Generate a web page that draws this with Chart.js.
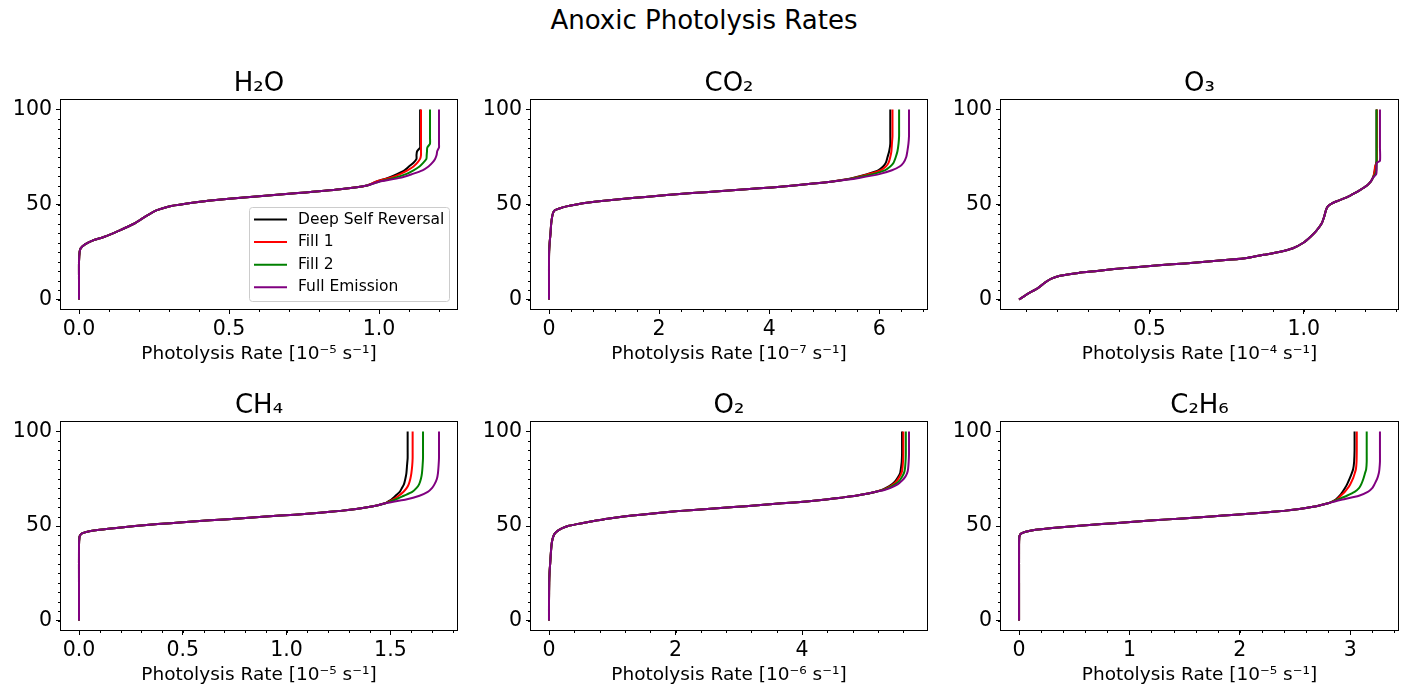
<!DOCTYPE html>
<html>
<head>
<meta charset="utf-8">
<title>Anoxic Photolysis Rates</title>
<script src="https://cdn.jsdelivr.net/npm/chart.js@4.4.0/dist/chart.umd.min.js"></script>
<style>
  html, body { margin: 0; padding: 0; background: #fff; overflow: hidden; }
  body { width: 1408px; height: 687px; position: relative; font-family: "DejaVu Sans", sans-serif; }
  #suptitle { position: absolute; left: 0; top: 7px; width: 1408px; text-align: center;
              font-size: 26px; line-height: 26px; color: #000; }
  canvas { position: absolute; }
</style>
</head>
<body>
<div id="suptitle">Anoxic Photolysis Rates</div>
<script>
// line profiles
var seriesNames = ['Deep Self Reversal', 'Fill 1', 'Fill 2', 'Full Emission'];
var seriesColors = ['#000000', '#ff0000', '#008000', '#800080'];

var yTicks = ['0', '50', '100'];

// H2O  [1e-5 s-1]
var h2oAlt   = [0, 10, 20, 25, 27, 29, 31, 33, 36, 40, 44, 47, 49, 50.5, 52, 54, 56, 58, 60, 62, 64, 66, 68, 70, 72, 74, 76, 78, 80, 82, 85, 90, 100];
var h2oDeep  = [0, 0, 0, 0.002, 0.006, 0.02, 0.045, 0.085, 0.13, 0.185, 0.225, 0.26, 0.30, 0.36, 0.43, 0.57, 0.73, 0.87, 0.96, 0.99, 1.03, 1.06, 1.085, 1.10, 1.115, 1.125, 1.125, 1.127, 1.137, 1.137, 1.137, 1.137, 1.137];
var h2oFill1 = [0, 0, 0, 0.002, 0.006, 0.02, 0.045, 0.085, 0.13, 0.185, 0.225, 0.26, 0.30, 0.36, 0.43, 0.57, 0.73, 0.87, 0.96, 0.99, 1.035, 1.07, 1.095, 1.115, 1.128, 1.137, 1.14, 1.14, 1.14, 1.14, 1.14, 1.14, 1.14];
var h2oFill2 = [0, 0, 0, 0.002, 0.006, 0.02, 0.045, 0.085, 0.13, 0.185, 0.225, 0.26, 0.30, 0.36, 0.43, 0.57, 0.73, 0.87, 0.96, 1.00, 1.05, 1.09, 1.115, 1.135, 1.148, 1.158, 1.159, 1.16, 1.161, 1.17, 1.17, 1.17, 1.17];
var h2oFull  = [0, 0, 0, 0.002, 0.006, 0.02, 0.045, 0.085, 0.13, 0.185, 0.225, 0.26, 0.30, 0.36, 0.43, 0.57, 0.73, 0.87, 0.96, 1.00, 1.07, 1.11, 1.145, 1.165, 1.178, 1.187, 1.192, 1.194, 1.2, 1.2, 1.2, 1.2, 1.2];
var h2oTicks = ['0.0', '0.5', '1.0'];

// CO2  [1e-7 s-1]
var co2Alt   = [0, 10, 20, 25, 30, 35, 40, 44, 46, 47, 48, 49, 50, 51, 52, 53, 54, 55, 56, 57, 58, 59, 60, 61, 62, 63, 64, 66, 68, 70, 72, 75, 78, 82, 86, 90, 95, 100];
var co2Deep  = [0, 0, 0, 0.002, 0.012, 0.028, 0.04, 0.06, 0.08, 0.11, 0.2, 0.32, 0.5, 0.72, 1.0, 1.37, 1.75, 2.14, 2.6, 3.08, 3.58, 4.05, 4.45, 4.8, 5.12, 5.35, 5.52, 5.78, 5.98, 6.07, 6.12, 6.15, 6.18, 6.2, 6.2, 6.2, 6.2, 6.2];
var co2Fill1 = [0, 0, 0, 0.002, 0.012, 0.028, 0.04, 0.06, 0.08, 0.11, 0.2, 0.32, 0.5, 0.72, 1.0, 1.37, 1.75, 2.14, 2.6, 3.08, 3.58, 4.05, 4.45, 4.8, 5.12, 5.36, 5.54, 5.8, 6.02, 6.12, 6.17, 6.2, 6.22, 6.23, 6.24, 6.24, 6.24, 6.24];
var co2Fill2 = [0, 0, 0, 0.002, 0.012, 0.028, 0.04, 0.06, 0.08, 0.11, 0.2, 0.32, 0.5, 0.72, 1.0, 1.37, 1.75, 2.14, 2.6, 3.08, 3.58, 4.05, 4.45, 4.8, 5.12, 5.38, 5.57, 5.88, 6.1, 6.2, 6.26, 6.3, 6.33, 6.35, 6.36, 6.36, 6.36, 6.36];
var co2Full  = [0, 0, 0, 0.002, 0.012, 0.028, 0.04, 0.06, 0.08, 0.11, 0.2, 0.32, 0.5, 0.72, 1.0, 1.37, 1.75, 2.14, 2.6, 3.08, 3.58, 4.05, 4.45, 4.8, 5.12, 5.4, 5.63, 6.0, 6.23, 6.37, 6.44, 6.49, 6.51, 6.53, 6.54, 6.54, 6.54, 6.54];
var co2Ticks = ['0', '2', '4', '6'];

// O3  [1e-4 s-1]
var o3Alt   = [0, 3, 6, 9, 11, 12.5, 14, 15, 16, 17, 18, 19, 20, 21, 22, 23.5, 25, 27, 30, 33, 36, 40, 44, 47, 49, 50.5, 52, 54, 56, 58, 60, 62, 64, 66, 68, 70, 72, 73, 80, 90, 100];
var o3Deep  = [0.077, 0.105, 0.138, 0.162, 0.182, 0.21, 0.27, 0.33, 0.385, 0.455, 0.53, 0.615, 0.69, 0.765, 0.82, 0.87, 0.92, 0.965, 1.0, 1.022, 1.04, 1.058, 1.067, 1.072, 1.078, 1.09, 1.112, 1.142, 1.165, 1.186, 1.205, 1.217, 1.224, 1.228, 1.23, 1.232, 1.235, 1.236, 1.236, 1.236, 1.236];
var o3Fill1 = [0.077, 0.105, 0.138, 0.162, 0.182, 0.21, 0.27, 0.33, 0.385, 0.455, 0.53, 0.615, 0.69, 0.765, 0.82, 0.87, 0.92, 0.965, 1.0, 1.022, 1.04, 1.058, 1.067, 1.072, 1.078, 1.09, 1.112, 1.142, 1.165, 1.186, 1.205, 1.217, 1.224, 1.228, 1.23, 1.231, 1.236, 1.237, 1.237, 1.237, 1.237];
var o3Fill2 = [0.077, 0.105, 0.138, 0.162, 0.182, 0.21, 0.27, 0.33, 0.385, 0.455, 0.53, 0.615, 0.69, 0.765, 0.82, 0.87, 0.92, 0.965, 1.0, 1.022, 1.04, 1.058, 1.067, 1.072, 1.078, 1.09, 1.112, 1.142, 1.165, 1.186, 1.205, 1.217, 1.224, 1.232, 1.235, 1.236, 1.236, 1.236, 1.236, 1.236, 1.236];
var o3Full  = [0.077, 0.105, 0.138, 0.162, 0.182, 0.21, 0.27, 0.33, 0.385, 0.455, 0.53, 0.615, 0.69, 0.765, 0.82, 0.87, 0.92, 0.965, 1.0, 1.022, 1.04, 1.058, 1.067, 1.072, 1.078, 1.09, 1.112, 1.142, 1.165, 1.186, 1.205, 1.217, 1.224, 1.235, 1.236, 1.236, 1.237, 1.247, 1.247, 1.247, 1.247];
var o3Ticks = ['0.5', '1.0'];

// CH4  [1e-5 s-1]
var ch4Alt   = [0, 20, 40, 44, 45, 46, 47, 48, 49, 50, 51, 52, 53, 54, 55, 56, 57, 58, 59, 60, 61, 62, 63, 64, 66, 68, 70, 72, 75, 78, 82, 86, 90, 100];
var ch4Deep  = [0, 0, 0, 0.002, 0.005, 0.012, 0.04, 0.1, 0.18, 0.27, 0.38, 0.5, 0.63, 0.77, 0.9, 1.04, 1.16, 1.26, 1.335, 1.395, 1.44, 1.475, 1.49, 1.505, 1.525, 1.545, 1.555, 1.565, 1.572, 1.577, 1.58, 1.583, 1.583, 1.583];
var ch4Fill1 = [0, 0, 0, 0.002, 0.005, 0.012, 0.04, 0.1, 0.18, 0.27, 0.38, 0.5, 0.63, 0.77, 0.9, 1.04, 1.16, 1.26, 1.335, 1.395, 1.44, 1.475, 1.495, 1.512, 1.54, 1.562, 1.578, 1.588, 1.596, 1.601, 1.605, 1.607, 1.607, 1.607];
var ch4Fill2 = [0, 0, 0, 0.002, 0.005, 0.012, 0.04, 0.1, 0.18, 0.27, 0.38, 0.5, 0.63, 0.77, 0.9, 1.04, 1.16, 1.26, 1.335, 1.395, 1.44, 1.475, 1.5, 1.525, 1.565, 1.605, 1.625, 1.638, 1.647, 1.652, 1.655, 1.657, 1.657, 1.657];
var ch4Full  = [0, 0, 0, 0.002, 0.005, 0.012, 0.04, 0.1, 0.18, 0.27, 0.38, 0.5, 0.63, 0.77, 0.9, 1.04, 1.16, 1.26, 1.335, 1.395, 1.44, 1.475, 1.52, 1.575, 1.64, 1.68, 1.7, 1.712, 1.724, 1.729, 1.732, 1.734, 1.734, 1.734];
var ch4Ticks = ['0.0', '0.5', '1.0', '1.5'];

// O2  [1e-6 s-1]
var o2Alt   = [0, 10, 20, 25, 30, 35, 40, 43, 45, 46, 47, 48, 49, 50, 51, 52, 53, 54, 55, 56, 57, 58, 59, 60, 61, 62, 63, 64, 65, 66, 67, 68, 69, 70, 72, 74, 76, 78, 80, 84, 88, 92, 100];
var o2Deep  = [0, 0, 0.003, 0.008, 0.018, 0.028, 0.04, 0.055, 0.075, 0.09, 0.12, 0.16, 0.22, 0.3, 0.44, 0.6, 0.77, 0.95, 1.18, 1.45, 1.76, 2.08, 2.5, 2.92, 3.3, 3.68, 4.07, 4.38, 4.62, 4.85, 5.02, 5.15, 5.25, 5.32, 5.42, 5.48, 5.52, 5.55, 5.56, 5.575, 5.58, 5.58, 5.58];
var o2Fill1 = [0, 0, 0.003, 0.008, 0.018, 0.028, 0.04, 0.055, 0.075, 0.09, 0.12, 0.16, 0.22, 0.3, 0.44, 0.6, 0.77, 0.95, 1.18, 1.45, 1.76, 2.08, 2.5, 2.92, 3.3, 3.68, 4.07, 4.38, 4.62, 4.85, 5.02, 5.15, 5.27, 5.34, 5.44, 5.5, 5.54, 5.57, 5.585, 5.595, 5.6, 5.6, 5.6];
var o2Fill2 = [0, 0, 0.003, 0.008, 0.018, 0.028, 0.04, 0.055, 0.075, 0.09, 0.12, 0.16, 0.22, 0.3, 0.44, 0.6, 0.77, 0.95, 1.18, 1.45, 1.76, 2.08, 2.5, 2.92, 3.3, 3.68, 4.07, 4.38, 4.62, 4.85, 5.02, 5.15, 5.28, 5.36, 5.47, 5.54, 5.58, 5.61, 5.625, 5.635, 5.64, 5.64, 5.64];
var o2Full  = [0, 0, 0.003, 0.008, 0.018, 0.028, 0.04, 0.055, 0.075, 0.09, 0.12, 0.16, 0.22, 0.3, 0.44, 0.6, 0.77, 0.95, 1.18, 1.45, 1.76, 2.08, 2.5, 2.92, 3.3, 3.68, 4.07, 4.38, 4.62, 4.85, 5.02, 5.15, 5.3, 5.39, 5.51, 5.58, 5.63, 5.66, 5.675, 5.685, 5.69, 5.69, 5.69];
var o2Ticks = ['0', '2', '4'];

// C2H6  [1e-5 s-1]
var c2h6Alt   = [0, 20, 40, 44, 45, 46, 47, 48, 49, 50, 51, 52, 53, 54, 55, 56, 57, 58, 59, 60, 61, 62, 63, 64, 66, 68, 70, 72, 75, 78, 80, 84, 90, 100];
var c2h6Deep  = [0, 0, 0, 0.002, 0.006, 0.018, 0.06, 0.15, 0.3, 0.52, 0.75, 0.98, 1.22, 1.48, 1.74, 1.96, 2.2, 2.4, 2.54, 2.65, 2.73, 2.8, 2.84, 2.87, 2.905, 2.93, 2.952, 2.972, 2.995, 3.015, 3.027, 3.036, 3.04, 3.04];
var c2h6Fill1 = [0, 0, 0, 0.002, 0.006, 0.018, 0.06, 0.15, 0.3, 0.52, 0.75, 0.98, 1.22, 1.48, 1.74, 1.96, 2.2, 2.4, 2.54, 2.65, 2.73, 2.8, 2.845, 2.88, 2.915, 2.95, 2.978, 3.0, 3.025, 3.042, 3.052, 3.058, 3.06, 3.06];
var c2h6Fill2 = [0, 0, 0, 0.002, 0.006, 0.018, 0.06, 0.15, 0.3, 0.52, 0.75, 0.98, 1.22, 1.48, 1.74, 1.96, 2.2, 2.4, 2.54, 2.65, 2.73, 2.8, 2.85, 2.89, 2.97, 3.04, 3.08, 3.1, 3.12, 3.135, 3.145, 3.15, 3.15, 3.15];
var c2h6Full  = [0, 0, 0, 0.002, 0.006, 0.018, 0.06, 0.15, 0.3, 0.52, 0.75, 0.98, 1.22, 1.48, 1.74, 1.96, 2.2, 2.4, 2.54, 2.65, 2.73, 2.8, 2.86, 2.93, 3.08, 3.16, 3.2, 3.22, 3.245, 3.26, 3.265, 3.27, 3.27, 3.27];
var c2h6Ticks = ['0', '1', '2', '3'];

var panels = [
  { title: 'H₂O',  xTitle: 'Photolysis Rate [10⁻⁵ s⁻¹]', alt: h2oAlt,  series: [h2oDeep, h2oFill1, h2oFill2, h2oFull],     ticks: h2oTicks,  legend: true },
  { title: 'CO₂',  xTitle: 'Photolysis Rate [10⁻⁷ s⁻¹]', alt: co2Alt,  series: [co2Deep, co2Fill1, co2Fill2, co2Full],     ticks: co2Ticks },
  { title: 'O₃',   xTitle: 'Photolysis Rate [10⁻⁴ s⁻¹]', alt: o3Alt,   series: [o3Deep, o3Fill1, o3Fill2, o3Full],         ticks: o3Ticks },
  { title: 'CH₄',  xTitle: 'Photolysis Rate [10⁻⁵ s⁻¹]', alt: ch4Alt,  series: [ch4Deep, ch4Fill1, ch4Fill2, ch4Full],     ticks: ch4Ticks },
  { title: 'O₂',   xTitle: 'Photolysis Rate [10⁻⁶ s⁻¹]', alt: o2Alt,   series: [o2Deep, o2Fill1, o2Fill2, o2Full],         ticks: o2Ticks },
  { title: 'C₂H₆', xTitle: 'Photolysis Rate [10⁻⁵ s⁻¹]', alt: c2h6Alt, series: [c2h6Deep, c2h6Fill1, c2h6Fill2, c2h6Full], ticks: c2h6Ticks }
];

// axes boxes on the page: left, top, width, height
var boxes = [
  [61, 100, 396, 209], [531, 100, 396, 209], [1001, 100, 397, 209],
  [61, 422, 396, 208], [531, 422, 396, 208], [1001, 422, 397, 208]
];

var FONT = "'DejaVu Sans'";
Chart.defaults.font.family = FONT;
Chart.defaults.color = '#000';

// frame, minor ticks, subplot title, legend box
var decor = {
  id: 'decor',
  afterDraw: function (chart) {
    var ctx = chart.ctx, ca = chart.chartArea, p = chart.options.plugins.decor;
    var xs = chart.scales.x, ys = chart.scales.y;
    ctx.save();
    ctx.strokeStyle = '#000';
    ctx.lineWidth = 1;
    ctx.strokeRect(Math.round(ca.left) - 0.5, Math.round(ca.top) - 0.5,
                   Math.round(ca.right - ca.left) + 1, Math.round(ca.bottom - ca.top) + 1);

    // minor ticks
    ctx.beginPath();
    var xStep = (parseFloat(p.ticks[1]) - parseFloat(p.ticks[0])) / 5;
    for (var k = Math.ceil(xs.min / xStep); k * xStep <= xs.max; k++) {
      var px = Math.round(xs.getPixelForValue(k * xStep)) + 0.5;
      ctx.moveTo(px, ca.bottom);
      ctx.lineTo(px, ca.bottom + 3);
    }
    for (var v = 0; v <= 100; v += 5) {
      var py = Math.round(ys.getPixelForValue(v)) + 0.5;
      ctx.moveTo(ca.left, py);
      ctx.lineTo(ca.left - 3, py);
    }
    ctx.stroke();

    // subplot title
    ctx.fillStyle = '#000';
    ctx.font = '26px ' + FONT;
    ctx.textAlign = 'center';
    ctx.textBaseline = 'alphabetic';
    ctx.fillText(p.title, (ca.left + ca.right) / 2, ca.top - 9);

    if (p.legend) {
      var w = 200, h = 94;
      var bx = ca.right - 8 - w, by = ca.bottom - 8 - h;
      ctx.beginPath();
      ctx.roundRect(bx + 0.5, by + 0.5, w, h, 3);
      ctx.fillStyle = 'rgba(255,255,255,0.8)';
      ctx.fill();
      ctx.strokeStyle = '#cccccc';
      ctx.stroke();
      ctx.font = '15.5px ' + FONT;
      ctx.textAlign = 'left';
      ctx.textBaseline = 'middle';
      chart.data.datasets.forEach(function (ds, i) {
        var ry = by + 12.5 + i * 22.6;
        ctx.beginPath();
        ctx.strokeStyle = ds.borderColor;
        ctx.lineWidth = 2;
        ctx.moveTo(bx + 5, ry);
        ctx.lineTo(bx + 38, ry);
        ctx.stroke();
        ctx.fillStyle = '#000';
        ctx.fillText(ds.label, bx + 49, ry);
      });
    }
    ctx.restore();
  }
};

function makeChart(p, box) {
  var cv = document.createElement('canvas');
  var cw = 60 + box[2] + 8, ch = 45 + box[3] + 60;
  cv.width = cw; cv.height = ch;
  cv.style.left = (box[0] - 60) + 'px';
  cv.style.top = (box[1] - 45) + 'px';
  cv.style.width = cw + 'px'; cv.style.height = ch + 'px';
  document.body.appendChild(cv);

  var all = [].concat.apply([], p.series);
  var lo = Math.min.apply(null, all), hi = Math.max.apply(null, all);
  var pad = (hi - lo) * 0.05;

  var datasets = p.series.map(function (vals, k) {
    return {
      label: seriesNames[k],
      data: p.alt.map(function (a, j) { return { x: vals[j], y: a }; }),
      borderColor: seriesColors[k],
      backgroundColor: seriesColors[k],
      borderWidth: 2,
      pointRadius: 0,
      tension: 0.2,
      fill: false,
      order: 4 - k
    };
  });

  var tickFont = { family: FONT, size: 20.5 };
  return new Chart(cv, {
    type: 'line',
    data: { datasets: datasets },
    options: {
      responsive: false,
      animation: false,
      devicePixelRatio: 1,
      layout: { padding: { left: 0, top: 45, right: 8, bottom: 0 } },
      plugins: {
        legend: { display: false },
        tooltip: { enabled: false },
        decor: { title: p.title, ticks: p.ticks, legend: !!p.legend }
      },
      scales: {
        x: {
          type: 'linear',
          min: lo - pad,
          max: hi + pad,
          afterBuildTicks: function (s) { s.ticks = p.ticks.map(function (t) { return { value: parseFloat(t) }; }); },
          afterFit: function (s) { s.height = 60; },
          grid: { display: true, drawOnChartArea: false, drawTicks: true, tickLength: 5, tickColor: '#000', tickWidth: 1 },
          border: { display: false },
          ticks: { padding: 3, color: '#000', font: tickFont, maxRotation: 0, autoSkip: false,
                   callback: function (v, i) { return p.ticks[i]; } },
          title: { display: true, text: p.xTitle, color: '#000', font: { family: FONT, size: 18.5 },
                   padding: { top: 0, bottom: 3.5 } }
        },
        y: {
          type: 'linear',
          min: -5,
          max: 105,
          afterBuildTicks: function (s) { s.ticks = yTicks.map(function (t) { return { value: parseFloat(t) }; }); },
          afterFit: function (s) { s.width = 60; },
          grid: { display: true, drawOnChartArea: false, drawTicks: true, tickLength: 5, tickColor: '#000', tickWidth: 1 },
          border: { display: false },
          ticks: { padding: 4, color: '#000', font: tickFont, autoSkip: false,
                   callback: function (v, i) { return yTicks[i]; } }
        }
      }
    },
    plugins: [decor]
  });
}

panels.forEach(function (p, i) { makeChart(p, boxes[i]); });
</script>
</body>
</html>
